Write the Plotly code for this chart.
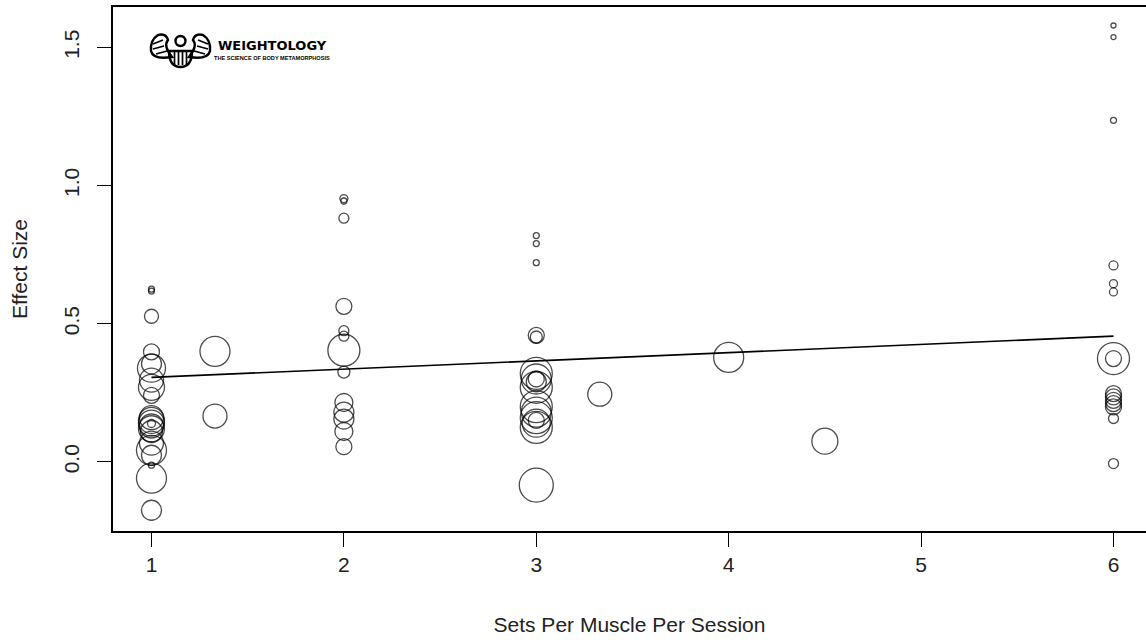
import plotly.graph_objects as go

# Sets per muscle per session for each study effect
sets = [
    1, 1, 1, 1, 1, 1, 1, 1, 1, 1, 1, 1, 1, 1, 1, 1, 1, 1, 1, 1, 1, 1,
    1.33, 1.33,
    2, 2, 2, 2, 2, 2, 2, 2, 2, 2, 2, 2, 2,
    3, 3, 3, 3, 3, 3, 3, 3, 3, 3, 3, 3, 3, 3, 3, 3, 3,
    3.33, 4, 4.5,
    6, 6, 6, 6, 6, 6, 6, 6, 6, 6, 6, 6, 6, 6, 6,
]

# Effect sizes
effect = [
    0.625, 0.618, 0.527, 0.398, 0.355, 0.339, 0.296, 0.270, 0.241, 0.160, 0.150,
    0.140, 0.130, 0.120, 0.139, 0.110, 0.068, 0.042, 0.024, -0.012, -0.059, -0.175,
    0.400, 0.166,
    0.953, 0.944, 0.882, 0.563, 0.475, 0.455, 0.404, 0.325, 0.215, 0.180, 0.155,
    0.110, 0.055,
    0.819, 0.790, 0.721, 0.458, 0.452, 0.320, 0.300, 0.290, 0.270, 0.200, 0.180,
    0.160, 0.140, 0.125, 0.150, 0.300, -0.084,
    0.245, 0.378, 0.075,
    1.579, 1.537, 1.236, 0.711, 0.645, 0.615, 0.374, 0.374, 0.247, 0.235, 0.223,
    0.211, 0.199, 0.157, -0.006,
]

# Relative study weight (drives bubble size)
weight = [
    3, 3, 7, 8, 10, 14, 12, 13, 8, 12, 13,
    13, 12, 13, 4, 11, 12, 15, 10, 3, 15, 10,
    15, 12,
    4, 3, 5, 8, 5, 5, 16, 6, 9, 10, 10,
    9, 8,
    3, 3, 3, 8, 6, 16, 15, 10, 16, 16, 15,
    16, 14, 16, 8, 8, 17,
    12, 15, 13,
    2.5, 2.5, 3, 4.5, 4, 4, 16, 8, 8, 8, 8,
    8, 8, 5, 5,
]

# Weighted meta-regression fit
fit_intercept = 0.2762
fit_slope = 0.0298
fit_x = [1, 6]
fit_y = [fit_intercept + fit_slope * v for v in fit_x]

x_ticks = [1, 2, 3, 4, 5, 6]
y_ticks = [0.0, 0.5, 1.0, 1.5]
y_tick_text = ["0.0", "0.5", "1.0", "1.5"]

W, H = 1146, 640
ML, MR, MT, MB = 113, 0, 7, 109
PW, PH = W - ML - MR, H - MT - MB

FONT = "Arial, Liberation Sans, sans-serif"
TXT = "#222222"

fig = go.Figure()

fig.add_trace(go.Scatter(
    x=sets, y=effect, mode="markers",
    marker=dict(symbol="circle-open", size=weight, sizemode="diameter",
                sizeref=0.5, color="black", line=dict(width=1.3, color="black")),
    showlegend=False, hoverinfo="x+y",
))

fig.add_trace(go.Scatter(
    x=fit_x, y=fit_y, mode="lines",
    line=dict(color="black", width=1.6),
    showlegend=False, hoverinfo="skip",
))


def px(xpix):
    return (xpix - ML) / PW


def py(ypix):
    return 1 - (ypix - MT) / PH


def qpath(cmds):
    out = []
    for c in cmds:
        op, pts = c[0], c[1:]
        out.append(op + " " + " ".join(f"{px(a):.5f},{py(b):.5f}" for a, b in pts))
    return " ".join(out)


logo_line = dict(color="black", width=2.4)
thin = dict(color="black", width=1.7)
shapes = []
# head
shapes.append(dict(type="circle", xref="paper", yref="paper",
                   x0=px(175.5), x1=px(185.5), y0=py(46), y1=py(36),
                   line=logo_line))
# body bowl
shapes.append(dict(type="path", xref="paper", yref="paper",
                   path=qpath([("M", (169, 51)), ("L", (192, 51)),
                               ("Q", (192, 67), (180.5, 67)),
                               ("Q", (169, 67), (169, 51)), ("Z",)]),
                   line=logo_line))
for sx in (174, 178, 182, 186):
    shapes.append(dict(type="line", xref="paper", yref="paper",
                       x0=px(sx + 0.5), x1=px(sx + 0.5), y0=py(52), y1=py(65),
                       line=thin))
# left arm loop
shapes.append(dict(type="path", xref="paper", yref="paper",
                   path=qpath([("M", (172, 57)), ("Q", (153, 60), (151, 51)),
                               ("Q", (150, 40), (158, 35)),
                               ("Q", (166, 33), (168, 40)),
                               ("Q", (163, 46), (172, 57)), ("Z",)]),
                   line=logo_line))
for a, b in (((153, 44), (163, 40)), ((153, 49), (164, 46)), ((156, 54), (167, 51))):
    shapes.append(dict(type="line", xref="paper", yref="paper",
                       x0=px(a[0]), y0=py(a[1]), x1=px(b[0]), y1=py(b[1]),
                       line=thin))
# right arm loop
shapes.append(dict(type="path", xref="paper", yref="paper",
                   path=qpath([("M", (189, 57)), ("Q", (208, 60), (210, 51)),
                               ("Q", (211, 40), (203, 35)),
                               ("Q", (195, 33), (193, 40)),
                               ("Q", (198, 46), (189, 57)), ("Z",)]),
                   line=logo_line))
for a, b in (((208, 44), (198, 40)), ((208, 49), (197, 46)), ((205, 54), (194, 51))):
    shapes.append(dict(type="line", xref="paper", yref="paper",
                       x0=px(a[0]), y0=py(a[1]), x1=px(b[0]), y1=py(b[1]),
                       line=thin))

annotations = [
    dict(text="<b>WEIGHTOLOGY</b>", xref="paper", yref="paper",
         x=px(216), y=py(45.5), xanchor="left", yanchor="middle", showarrow=False,
         font=dict(family="DejaVu Sans, sans-serif", size=13, color="black")),
    dict(text="<b>THE SCIENCE OF BODY METAMORPHOSIS</b>", xref="paper", yref="paper",
         x=px(212), y=py(57.5), xanchor="left", yanchor="middle", showarrow=False,
         font=dict(family=FONT, size=5.6, color="black")),
]

fig.update_layout(
    width=W, height=H,
    margin=dict(l=ML, r=MR, t=MT, b=MB, pad=0),
    paper_bgcolor="white", plot_bgcolor="white",
    font=dict(family=FONT, size=21, color=TXT),
    shapes=shapes, annotations=annotations,
    xaxis=dict(
        range=[0.8, 0.8 + PW / 192.4],
        tickvals=x_ticks, ticktext=[str(v) for v in x_ticks],
        ticks="outside", ticklen=14, tickwidth=1.3, tickcolor="black",
        ticklabelstandoff=0,
        showline=True, mirror=True, linecolor="black", linewidth=1.8,
        showgrid=False, zeroline=False, automargin=False,
        title=dict(text="Sets Per Muscle Per Session", standoff=42,
                   font=dict(size=21, color=TXT)),
        tickfont=dict(size=21, color=TXT),
    ),
    yaxis=dict(
        range=[-0.25, 1.646],
        tickvals=y_ticks, ticktext=y_tick_text, tickangle=-90,
        ticks="outside", ticklen=14, tickwidth=1.3, tickcolor="black",
        ticklabelstandoff=10,
        showline=True, mirror=False, linecolor="black", linewidth=1.8,
        showgrid=False, zeroline=False, automargin=False,
        title=dict(text="Effect Size", standoff=26,
                   font=dict(size=21, color=TXT)),
        tickfont=dict(size=21, color=TXT),
    ),
)

fig.write_html("out.html")
